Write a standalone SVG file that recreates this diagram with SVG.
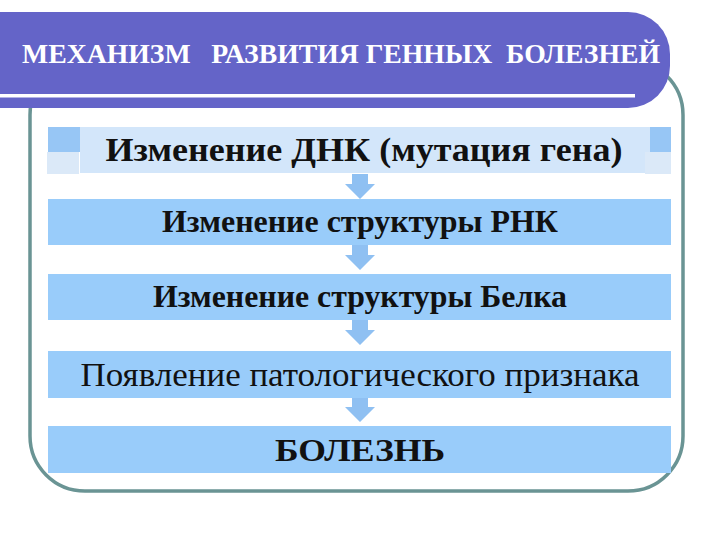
<svg xmlns="http://www.w3.org/2000/svg" width="720" height="540" viewBox="0 0 720 540">
<style>
.frame{fill:#ffffff;stroke:#6a9494;stroke-width:3.5}
.box{fill:#99ccfa}
.pale{fill:#d3e6fa}
.blk{fill:#97c6f5}
.blkl{fill:#dbe9f8}
.arrow{fill:#8fc0f2}
.t{font-family:"Liberation Serif","Times New Roman",serif;fill:#111;text-anchor:middle}
.b{font-weight:bold}
.title{font-family:"Liberation Serif","Times New Roman",serif;fill:#ffffff;font-weight:bold;font-size:27px}
</style>
<defs>
<path id="arr" d="M-8,0 H8 V10 H15 L0,25 L-15,10 H-8 Z"/>
</defs>
<rect width="720" height="540" fill="#ffffff"/>
<rect class="frame" x="30" y="60" width="653" height="431" rx="55" ry="55"/>
<g id="header">
<path d="M0,12 H628 A42,42 0 0 1 670,54 V66 A42,42 0 0 1 628,108 H0 Z" fill="#6464c8"/>
<rect x="0" y="94" width="635" height="3.5" fill="#ffffff"/>
<text class="title" x="22" y="63" textLength="638" lengthAdjust="spacingAndGlyphs" xml:space="preserve">МЕХАНИЗМ   РАЗВИТИЯ ГЕННЫХ  БОЛЕЗНЕЙ</text>
</g>
<g id="connectors">
<use href="#arr" x="360" y="174" class="arrow"/>
<use href="#arr" x="360" y="245" class="arrow"/>
<use href="#arr" x="360" y="320" class="arrow"/>
<use href="#arr" x="360" y="397" class="arrow"/>
</g>
<g id="n1">
<rect class="pale" x="80" y="127" width="570" height="46"/>
<rect class="blk" x="48" y="127" width="32" height="25"/>
<rect class="blkl" x="47" y="152" width="32" height="22"/>
<rect class="blk" x="650" y="127" width="21" height="25"/>
<rect class="blkl" x="645" y="152" width="26" height="22"/>
<text class="t b" x="364" y="161" font-size="33" textLength="517" lengthAdjust="spacingAndGlyphs">Изменение ДНК (мутация гена)</text>
</g>
<g id="n2">
<rect class="box" x="48" y="199" width="623" height="46"/>
<text class="t b" x="360" y="232" font-size="31" textLength="396" lengthAdjust="spacingAndGlyphs">Изменение структуры РНК</text>
</g>
<g id="n3">
<rect class="box" x="48" y="274" width="623" height="46"/>
<text class="t b" x="360" y="307" font-size="31" textLength="414" lengthAdjust="spacingAndGlyphs">Изменение структуры Белка</text>
</g>
<g id="n4">
<rect class="box" x="48" y="351" width="623" height="47"/>
<text class="t" x="360" y="386" font-size="33" textLength="559" lengthAdjust="spacingAndGlyphs">Появление патологического признака</text>
</g>
<g id="n5">
<rect class="box" x="48" y="426" width="623" height="47"/>
<text class="t b" x="360" y="461" font-size="32" textLength="170" lengthAdjust="spacingAndGlyphs">БОЛЕЗНЬ</text>
</g>
</svg>
